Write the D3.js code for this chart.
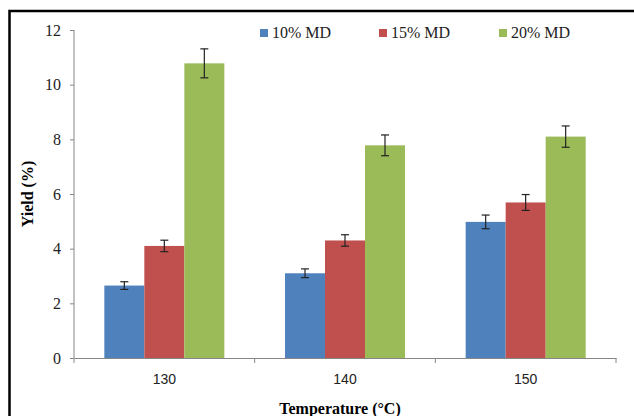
<!DOCTYPE html>
<html>
<head>
<meta charset="utf-8">
<script src="https://cdn.jsdelivr.net/npm/d3@7"></script>
<style>
  body { margin: 0; background: #fff; }
</style>
</head>
<body>
<div id="chart"></div>
<script>
// data
let temps = ["130", "140", "150"];
let seriesNames = ["10% MD", "15% MD", "20% MD"];
let seriesColors = ["#4F81BD", "#C0504D", "#9BBB59"];
let md10 = [2.65, 3.1, 4.98];
let md15 = [4.1, 4.3, 5.69];
let md20 = [10.78, 7.78, 8.1];
let err10 = [0.14, 0.16, 0.25];
let err15 = [0.21, 0.21, 0.29];
let err20 = [0.53, 0.38, 0.39];
let yTicks = [0, 2, 4, 6, 8, 10, 12];

let values = [md10, md15, md20];
let errors = [err10, err15, err20];

let serif = "'Liberation Serif', 'Times New Roman', 'DejaVu Serif', serif";
let sans = "'Liberation Sans', Arial, sans-serif";

let W = 634, H = 416;
let margin = {top: 30, right: 18, bottom: 58, left: 74};
let width = W - margin.left - margin.right,
    height = H - margin.top - margin.bottom;

let svg = d3.select("#chart")
    .append("svg")
    .attr("width", W)
    .attr("height", H);

// outer frame (runs off the right and bottom edge)
svg.append("rect")
    .attr("x", 9.5).attr("y", 11)
    .attr("width", W + 20).attr("height", H + 20)
    .attr("fill", "none")
    .attr("stroke", "#000")
    .attr("stroke-width", 2.5);

let g = svg.append("g")
    .attr("transform", "translate(" + margin.left + "," + margin.top + ")");

let x = d3.scaleBand()
    .domain(temps)
    .range([0, width])
    .paddingInner(0)
    .paddingOuter(0);

let xs = d3.scaleBand()
    .domain(seriesNames)
    .range([x.bandwidth() / 2 - 60, x.bandwidth() / 2 + 60]);

let y = d3.scaleLinear()
    .domain([0, 12])
    .range([height, 0]);

// Y axis
let yAxis = g.append("g")
    .call(d3.axisLeft(y).tickValues(yTicks).tickSize(4).tickPadding(9).tickFormat(d3.format("d")));
yAxis.selectAll("line, path").attr("stroke", "#868686");
yAxis.select(".domain").attr("d", "M0," + height + "V0");
yAxis.selectAll("text")
    .style("font-family", serif)
    .style("font-size", "16px")
    .attr("fill", "#222");

// bars
let groups = g.selectAll("g.grp")
    .data(temps)
    .enter()
    .append("g")
    .attr("class", "grp")
    .attr("transform", function (d) { return "translate(" + x(d) + ",0)"; });

seriesNames.forEach(function (s, si) {
    groups.append("rect")
        .attr("x", xs(s))
        .attr("y", function (d, i) { return y(values[si][i]); })
        .attr("width", xs.bandwidth())
        .attr("height", function (d, i) { return height - y(values[si][i]); })
        .attr("fill", seriesColors[si]);
});

// error bars
seriesNames.forEach(function (s, si) {
    let cx = xs(s) + xs.bandwidth() / 2;
    groups.each(function (d, i) {
        let v = values[si][i], e = errors[si][i];
        let eg = d3.select(this).append("g")
            .attr("stroke", "#222")
            .attr("stroke-width", 1.2);
        eg.append("line")
            .attr("x1", cx).attr("x2", cx)
            .attr("y1", y(v + e)).attr("y2", y(v - e));
        eg.append("line")
            .attr("x1", cx - 4).attr("x2", cx + 4)
            .attr("y1", y(v + e)).attr("y2", y(v + e));
        eg.append("line")
            .attr("x1", cx - 4).attr("x2", cx + 4)
            .attr("y1", y(v - e)).attr("y2", y(v - e));
    });
});

// X axis
let xAxis = g.append("g")
    .attr("transform", "translate(0," + height + ")")
    .call(d3.axisBottom(x).tickSize(0).tickPadding(16));
xAxis.selectAll("line, path").attr("stroke", "#868686");
xAxis.selectAll("text")
    .style("font-family", sans)
    .style("font-size", "14px")
    .attr("fill", "#222");
// category separators
xAxis.selectAll("line.sep")
    .data(d3.range(temps.length + 1))
    .enter()
    .append("line")
    .attr("class", "sep")
    .attr("x1", function (d) { return d * x.step(); })
    .attr("x2", function (d) { return d * x.step(); })
    .attr("y1", 0).attr("y2", 5)
    .attr("stroke", "#868686");

// axis titles
svg.append("text")
    .attr("x", 340)
    .attr("y", 414)
    .attr("text-anchor", "middle")
    .style("font-family", serif)
    .style("font-weight", "bold")
    .style("font-size", "16px")
    .text("Temperature (°C)");

svg.append("text")
    .attr("transform", "translate(33," + (margin.top + height / 2) + ") rotate(-90)")
    .attr("text-anchor", "middle")
    .style("font-family", serif)
    .style("font-weight", "bold")
    .style("font-size", "16px")
    .text("Yield (%)");

// legend
let legendX = [260, 379, 499];
let legend = svg.selectAll("g.leg")
    .data(seriesNames)
    .enter()
    .append("g")
    .attr("class", "leg")
    .attr("transform", function (d, i) { return "translate(" + legendX[i] + ",29)"; });
legend.append("rect")
    .attr("width", 8).attr("height", 8)
    .attr("fill", function (d, i) { return seriesColors[i]; });
legend.append("text")
    .attr("x", 12)
    .attr("y", 9)
    .style("font-family", serif)
    .style("font-size", "16px")
    .attr("fill", "#222")
    .text(function (d) { return d; });
</script>
</body>
</html>
